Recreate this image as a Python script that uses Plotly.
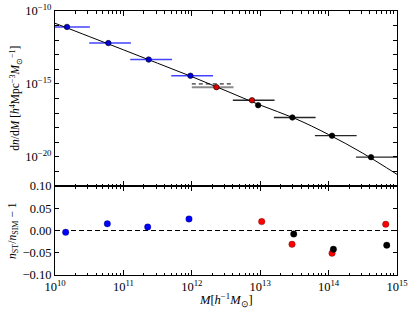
import numpy as np
import plotly.graph_objects as go

# ---------------- data (log10 values) ----------------
# top panel: mass function
blue_logM = [10.175, 10.78, 11.37, 11.98]
blue_logn = [-11.09, -12.20, -13.33, -14.44]
blue_bin_lo = [9.9, 10.5, 11.1, 11.7]
blue_bin_hi = [10.51, 11.11, 11.71, 12.31]

red_logM = [12.36, 12.88]
red_logn = [-15.22, -16.12]

black_logM = [12.97, 13.47, 14.05, 14.62]
black_logn = [-16.46, -17.30, -18.55, -20.02]
black_bin_lo = [12.6, 13.2, 13.8, 14.4]
black_bin_hi = [13.21, 13.81, 14.41, 15.0]
black_bin_logn = [-16.12, -17.30, -18.55, -20.02]

gray_bin = [12.0, 12.61]
gray_bin_logn = -15.22
dash_bin = [12.0, 12.61]
dash_bin_logn = -15.0

# model curve (Sheth-Tormen)
curve_logM = [10.0, 10.5, 11.0, 11.5, 12.0, 12.5, 13.0, 13.5, 14.0, 14.5, 15.0]
curve_logn = [-10.84, -11.75, -12.66, -13.58, -14.50, -15.47, -16.45, -17.35, -18.47, -19.75, -21.2]

# bottom panel: residuals
res_blue_logM = [10.156, 10.765, 11.355, 11.959]
res_blue = [-0.004, 0.015, 0.008, 0.026]
res_red_logM = [13.022, 13.465, 14.05, 14.835]
res_red = [0.020, -0.031, -0.051, 0.014]
res_black_logM = [13.49, 14.07, 14.85]
res_black = [-0.008, -0.042, -0.033]

# ---------------------------------------------------------------------------
def p10(a):
    return [10.0 ** v for v in a]

def segs(lo, hi, lev):
    xs, ys = [], []
    for a, b, c in zip(lo, hi, lev):
        xs += [10.0 ** a, 10.0 ** b, None]
        ys += [10.0 ** c, 10.0 ** c, None]
    return xs, ys

fig = go.Figure()
FONT = "Liberation Serif"

# horizontal bin bars
bx, by = segs(blue_bin_lo, blue_bin_hi, blue_logn)
fig.add_trace(go.Scatter(x=bx, y=by, mode="lines", line=dict(color="rgba(20,20,255,0.8)", width=1.5),
                         xaxis="x", yaxis="y", hoverinfo="skip"))
kx, ky = segs(black_bin_lo, black_bin_hi, black_bin_logn)
fig.add_trace(go.Scatter(x=kx, y=ky, mode="lines", line=dict(color="rgba(0,0,0,0.85)", width=1.3),
                         xaxis="x", yaxis="y", hoverinfo="skip"))
gx, gy = segs([gray_bin[0]], [gray_bin[1]], [gray_bin_logn])
fig.add_trace(go.Scatter(x=gx, y=gy, mode="lines", line=dict(color="rgba(100,100,100,0.75)", width=2),
                         xaxis="x", yaxis="y", hoverinfo="skip"))
dx, dy = segs([dash_bin[0]], [dash_bin[1]], [dash_bin_logn])
fig.add_trace(go.Scatter(x=dx, y=dy, mode="lines", line=dict(color="black", width=1, dash="4px,3px"),
                         xaxis="x", yaxis="y", hoverinfo="skip"))

# model curve
fig.add_trace(go.Scatter(x=p10(curve_logM), y=p10(curve_logn), mode="lines",
                         line=dict(color="black", width=1, shape="spline"), xaxis="x", yaxis="y"))

# points top
mk = dict(size=5.5, line=dict(color="black", width=0.6))
fig.add_trace(go.Scatter(x=p10(blue_logM), y=p10(blue_logn), mode="markers",
                         marker=dict(color="#0000dd", **mk), xaxis="x", yaxis="y"))
fig.add_trace(go.Scatter(x=p10(red_logM), y=p10(red_logn), mode="markers",
                         marker=dict(color="#dd0000", **mk), xaxis="x", yaxis="y"))
fig.add_trace(go.Scatter(x=p10(black_logM), y=p10(black_logn), mode="markers",
                         marker=dict(color="black", **mk), xaxis="x", yaxis="y"))

# bottom panel
fig.add_trace(go.Scatter(x=[1e10, 1e15], y=[0, 0], mode="lines",
                         line=dict(color="black", width=1, dash="5px,3px"), xaxis="x2", yaxis="y2"))
mk2 = dict(size=6.5, line=dict(color="rgba(0,0,0,0.5)", width=0.5))
fig.add_trace(go.Scatter(x=p10(res_blue_logM), y=res_blue, mode="markers",
                         marker=dict(color="#0000ff", **mk2), xaxis="x2", yaxis="y2"))
fig.add_trace(go.Scatter(x=p10(res_red_logM), y=res_red, mode="markers",
                         marker=dict(color="#ff0000", **mk2), xaxis="x2", yaxis="y2"))
fig.add_trace(go.Scatter(x=p10(res_black_logM), y=res_black, mode="markers",
                         marker=dict(color="black", **mk2), xaxis="x2", yaxis="y2"))

# axes
dec_x = [10 ** k for k in range(10, 16)]
minor_x = [m * 10 ** k for k in range(10, 15) for m in range(2, 10)]
xlab = ["10<sup>%d</sup>" % k for k in range(10, 16)]
common = dict(showline=True, linecolor="black", linewidth=1, mirror="ticks", ticks="inside",
              tickcolor="black", showgrid=False, zeroline=False, automargin=False,
              tickfont=dict(family=FONT, size=12.5, color="black"))

ytop_vals = [10.0 ** k for k in range(-22, -9)]
ytop_text = ["10<sup>%d</sup>" % k if k in (-10, -15, -20) else "" for k in range(-22, -9)]
ytop_text = [t.replace("-", "−") for t in ytop_text]

fig.update_layout(
    width=413, height=311,
    margin=dict(l=55, r=16, t=11, b=36),
    paper_bgcolor="white", plot_bgcolor="white",
    showlegend=False,
    xaxis=dict(type="log", range=[10, 15], domain=[0, 1], anchor="y",
               tickvals=dec_x, ticktext=[""] * 6, ticklen=5,
               minor=dict(tickvals=minor_x, ticks="inside", ticklen=2.5, tickcolor="black"),
               **common),
    yaxis=dict(type="log", range=[-22, -10], domain=[0.337, 1], anchor="x",
               tickvals=ytop_vals, ticktext=ytop_text, ticklen=4, **common),
    xaxis2=dict(type="log", range=[10, 15], domain=[0, 1], anchor="y2",
                tickvals=dec_x, ticktext=xlab, ticklen=5,
                minor=dict(tickvals=minor_x, ticks="inside", ticklen=2.5, tickcolor="black"),
                **common),
    yaxis2=dict(range=[-0.1, 0.1], domain=[0, 0.337], anchor="x2",
                tickvals=[-0.1, -0.05, 0, 0.05, 0.1],
                ticktext=["−0.10", "−0.05", "0.00", "0.05", "0.10"], ticklen=4,
                **common),
    annotations=[
        dict(text="d<i>n</i>/d<i>M</i> [<i>h</i><sup>4</sup>Mpc<sup>−3</sup><i>M</i><sub>⊙</sub><sup>−1</sup>]",
             xref="paper", yref="paper", x=-0.115, y=0.67, xanchor="center", yanchor="middle",
             textangle=-90, showarrow=False, font=dict(family=FONT, size=11.5, color="black")),
        dict(text="<i>n</i><sub>ST</sub>/<i>n</i><sub>SIM</sub> − 1",
             xref="paper", yref="paper", x=-0.125, y=0.168, xanchor="center", yanchor="middle",
             textangle=-90, showarrow=False, font=dict(family=FONT, size=11.5, color="black")),
        dict(text="<i>M</i>[<i>h</i><sup>−1</sup><i>M</i><sub>⊙</sub>]",
             xref="paper", yref="paper", x=0.5, y=-0.095, xanchor="center", yanchor="middle",
             showarrow=False, font=dict(family=FONT, size=12.5, color="black")),
    ],
)

fig.write_html("out.html", config={"displayModeBar": False},
               post_script="document.body.style.margin='0px';document.body.style.overflow='hidden';")
